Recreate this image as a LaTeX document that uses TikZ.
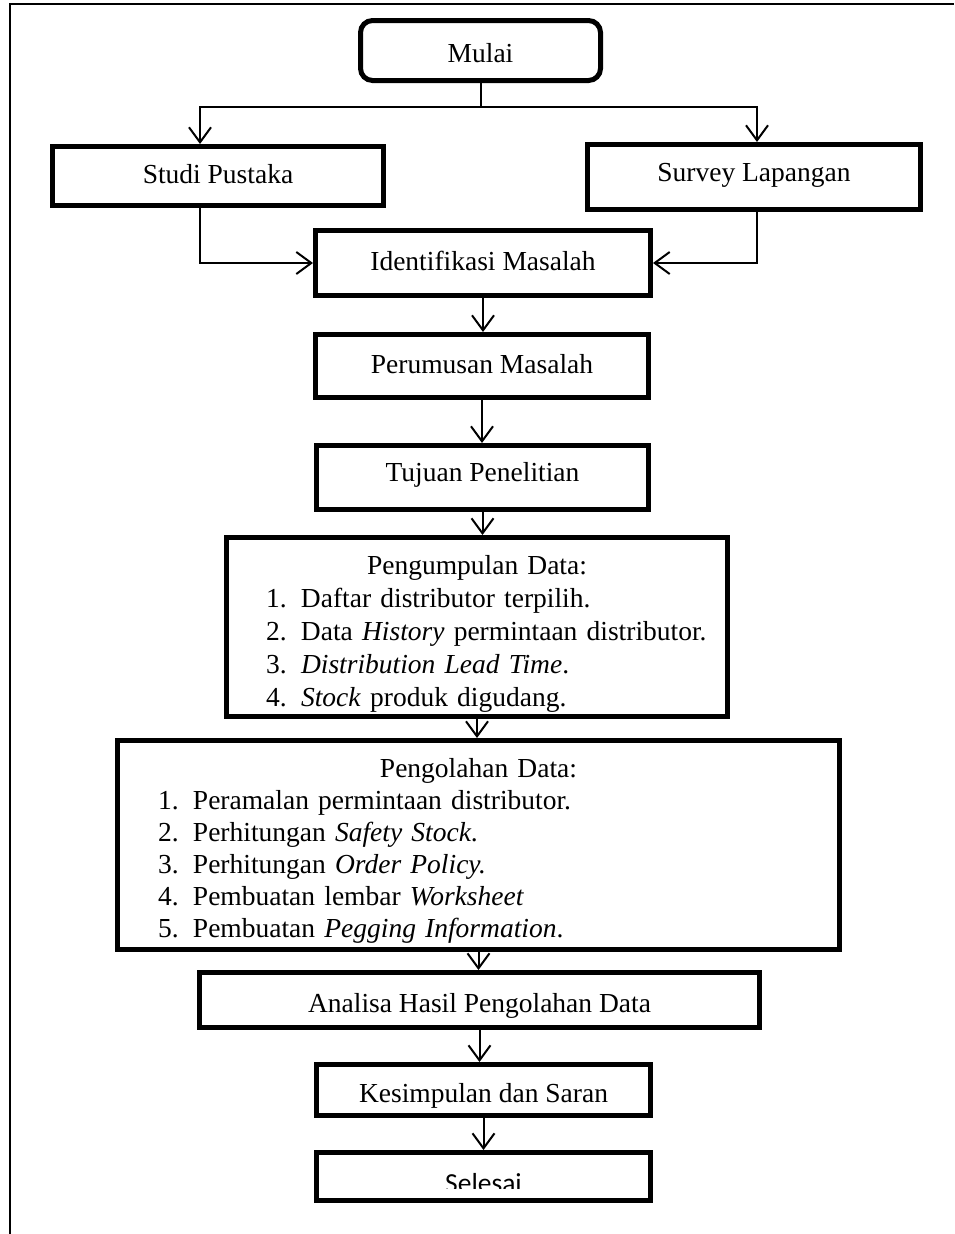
\documentclass[tikz,border=0pt]{standalone}
\usepackage{fontspec}
\setmainfont{Liberation Serif}
\newfontfamily\selesaifont{Carlito}
\usepackage{tikz}
\usetikzlibrary{arrows.meta}

\newcommand{\listline}[2]{\mbox{\makebox[35pt][l]{#1}#2}\par}

\begin{document}
\begin{tikzpicture}[x=1pt,y=-1pt,
    box/.style={draw, line width=5pt, inner sep=0pt, font=\fontsize{27.5}{33}\selectfont},
    onebox/.style={box, text height=19pt, text depth=5pt},
    listbox/.style={box, align=left},
    link/.style={line width=2pt},
    arr/.style={link, -{Straight Barb[length=15pt,width=22pt]}}]

\useasboundingbox (0,0) rectangle (954,1234);
\draw[line width=1.5pt] (10,1234) -- (10,4) -- (954,4);

\node[onebox, text height=29pt, rounded corners=12pt, minimum width=240pt, minimum height=60pt] (mulai) at (480.5,50.5) {Mulai};
\node[onebox, minimum width=331pt, minimum height=59pt] (studi) at (218,176) {Studi Pustaka};
\node[onebox, text height=13pt, minimum width=333pt, minimum height=65pt] (survey) at (754,177) {Survey Lapangan};
\node[onebox, minimum width=335pt, minimum height=65pt] (ident) at (483,263) {Identifikasi Masalah};
\node[onebox, minimum width=333pt, minimum height=63pt] (rumus) at (482,366) {Perumusan Masalah};
\node[onebox, text height=13pt, minimum width=332pt, minimum height=64pt] (tujuan) at (482.5,477.5) {Tujuan Penelitian};
\node[listbox, minimum width=501pt, minimum height=179pt, text width=422pt] (kumpul) at (477,627) {{\centering\rule{0pt}{33pt}Pengumpulan Data:\par}
  \listline{1.}{Daftar distributor terpilih.}
  \listline{2.}{Data \textit{History} permintaan distributor.}
  \listline{3.}{\textit{Distribution Lead Time}.}
  \listline{4.}{\textit{Stock} produk digudang.}};
\node[listbox, minimum width=722pt, minimum height=209pt, text width=641pt, font=\fontsize{27.5}{32}\selectfont] (olah) at (478.5,845) {{\centering\rule{0pt}{31pt}Pengolahan Data:\par}
  \listline{1.}{Peramalan permintaan distributor.}
  \listline{2.}{Perhitungan \textit{Safety Stock}.}
  \listline{3.}{Perhitungan \textit{Order Policy.}}
  \listline{4.}{Pembuatan lembar \textit{Worksheet}}
  \listline{5.}{Pembuatan \textit{Pegging Information}.}};
\node[onebox, text height=29pt, minimum width=560pt, minimum height=55pt] (analisa) at (479.5,1000) {Analisa Hasil Pengolahan Data};
\node[onebox, text height=29pt, minimum width=334pt, minimum height=51pt] (simpul) at (483.5,1090) {Kesimpulan dan Saran};
\node[box, minimum width=334pt, minimum height=48pt] (selesai) at (483.5,1176.5) {};
\begin{scope}
  \clip (317,1153) rectangle (650,1188);
  \node[font=\selesaifont\fontsize{27.5}{33}\selectfont, anchor=base] (selesaitext) at (483.5,1192) {Selesai};
\end{scope}

\coordinate (sl) at (200,107);
\coordinate (sr) at (757,107);
\draw[arr] (mulai.south) |- (sl) -- (sl |- studi.north);
\draw[arr] (mulai.south) |- (sr) -- (sr |- survey.north);
\draw[arr] (sl |- studi.south) |- (ident.west);
\draw[arr] (sr |- survey.south) |- (ident.east);
\foreach \a/\b in {ident/rumus, rumus/tujuan, tujuan/kumpul, kumpul/olah, olah/analisa, analisa/simpul, simpul/selesai}
  \draw[arr] (\a.south) -- (\a.south |- \b.north);
\end{tikzpicture}
\end{document}
